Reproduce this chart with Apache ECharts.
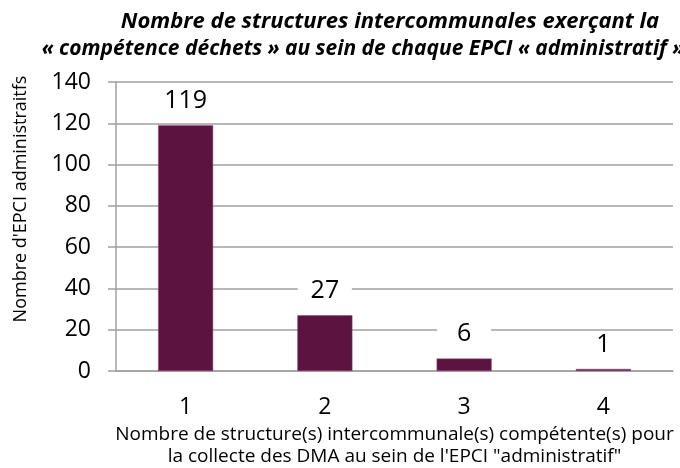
<!DOCTYPE html>
<html>
<head>
<meta charset="utf-8">
<script src="https://cdn.jsdelivr.net/npm/echarts@6/dist/echarts.min.js"></script>
<style>
  html, body { margin: 0; padding: 0; background: #fff; }
  #chart { width: 680px; height: 468px; }
</style>
</head>
<body>
<div id="chart"></div>
<script>
// data
const categories = ["1", "2", "3", "4"];
const epciCounts = [119, 27, 6, 1];
const titleLines = [
  "Nombre de structures intercommunales exerçant la",
  "« compétence déchets » au sein de chaque EPCI « administratif »"
];
const xName = "Nombre de structure(s) intercommunale(s) compétente(s) pour\nla collecte des DMA au sein de l'EPCI \"administratif\"";
const yName = "Nombre d'EPCI administraitfs";

const font = "'Open Sans', sans-serif";
const chart = echarts.init(document.getElementById("chart"));

chart.setOption({
  animation: false,
  title: [
    {
      text: titleLines[0], left: 385, top: 6, textAlign: "center",
      textStyle: { fontFamily: font, fontSize: 22, fontWeight: "bold", fontStyle: "italic", color: "#000" }
    },
    {
      text: titleLines[1], left: 358, top: 34, textAlign: "center",
      textStyle: { fontFamily: font, fontSize: 21, fontWeight: "bold", fontStyle: "italic", color: "#000" }
    }
  ],
  grid: { left: 116, right: 7, top: 82, bottom: 97, containLabel: false, outerBoundsMode: "none" },
  xAxis: {
    type: "category",
    data: categories,
    name: xName,
    nameLocation: "middle",
    nameGap: 53,
    nameTextStyle: { fontFamily: font, fontSize: 19, color: "#000", lineHeight: 22 },
    axisLine: { lineStyle: { color: "#a0a0a0", width: 1.5 } },
    axisTick: { show: false },
    axisLabel: { fontFamily: font, fontSize: 23, color: "#000", margin: 25 }
  },
  yAxis: {
    type: "value",
    min: 0, max: 140, interval: 20,
    name: yName,
    nameLocation: "middle",
    nameGap: 86,
    nameRotate: 90,
    nameTextStyle: { fontFamily: font, fontSize: 18, color: "#000", padding: [0, 0, 0, 55] },
    axisLine: { show: true, lineStyle: { color: "#a0a0a0", width: 1.5 } },
    axisTick: { show: true, length: 8, lineStyle: { color: "#a0a0a0", width: 1.5 } },
    axisLabel: { fontFamily: font, fontSize: 23, color: "#000", margin: 25 },
    splitLine: { lineStyle: { color: "#a0a0a0", width: 1.5 } }
  },
  series: [{
    type: "bar",
    data: epciCounts,
    barWidth: 55,
    itemStyle: { color: "#5c1340", borderColor: "#8a4a70", borderWidth: 0.5 },
    label: {
      show: true,
      position: "top",
      distance: 12,
      fontFamily: font,
      fontSize: 25,
      color: "#000",
      backgroundColor: "#fff",
      width: 54,
      align: "center",
      padding: 0
    }
  }]
});
</script>
</body>
</html>
